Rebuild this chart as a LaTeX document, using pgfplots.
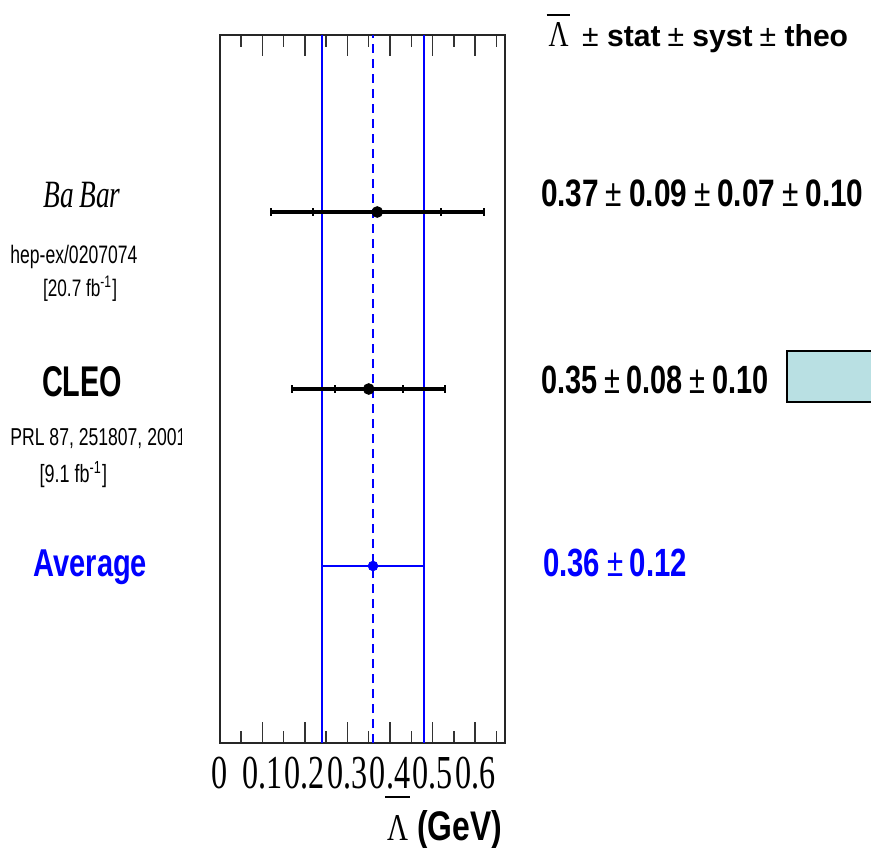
\documentclass[border=0pt]{standalone}
\usepackage{pgfplots}
\pgfplotsset{compat=1.18}
\usepackage{fontspec}
\setmainfont{Liberation Sans}
\newfontfamily\sn[FakeStretch=0.72]{Liberation Sans}
\newfontfamily\sr[FakeStretch=0.8]{Liberation Serif}
\newfontfamily\tk[FakeStretch=0.68]{Liberation Serif}
\definecolor{boxcyan}{RGB}{185,224,227}
\newlength\px \setlength\px{0.5pt}
\newcommand\fit[3]{\resizebox{#1\px}{#2\px}{#3}}
\newcommand\fitw[2]{\resizebox{#1\px}{!}{#2}}
\newcommand\PM{{\mdseries\char"00B1}}
\begin{document}
\begin{tikzpicture}
\useasboundingbox (0,0) rectangle (435.5pt,423.5pt);
\begin{axis}[
  at={(109.85pt,52pt)}, anchor=south west,
  scale only axis, width=142.65pt, height=354pt,
  xmin=0, xmax=0.67, ymin=0, ymax=4,
  axis line style={line width=1pt, black!85},
  xtick={0,0.1,0.2,0.3,0.4,0.5,0.6},
  xticklabels={0,0.1,0.2,0.3,0.4,0.5,0.6},
  minor xtick={0.05,0.15,0.25,0.35,0.45,0.55,0.65},
  ytick=\empty,
  tick align=inside,
  major tick length=10.5pt, minor tick length=6pt,
  every tick/.style={line width=0.75pt, black!80},
  xticklabel style={font=\tk\fontsize{23.65}{24}\selectfont, inner sep=0pt, yshift=-6.85pt},
  clip=false,
]
% average band lines
\addplot[blue, line width=1.1pt] coordinates {(0.24,0) (0.24,4)};
\addplot[blue, line width=1.1pt] coordinates {(0.48,0) (0.48,4)};
\addplot[blue, line width=1.1pt, dash pattern=on 4.5pt off 3pt] coordinates {(0.36,0) (0.36,4)};
% outer error bars (stat+syst+theo)
\addplot[only marks, mark=none, black,
  error bars/.cd, x dir=both, x explicit,
  error bar style={line width=1.6pt, black},
  error mark=|, error mark options={line width=1.1pt, mark size=1.9pt, black}]
  coordinates {(0.37,3) +- (0.25,0) (0.35,2) +- (0.18,0)};
% inner error bars (stat+syst)
\addplot[only marks, mark=*, mark size=2.7pt, black,
  error bars/.cd, x dir=both, x explicit,
  error bar style={line width=1.6pt, black},
  error mark=|, error mark options={line width=1.1pt, mark size=1.9pt, black}]
  coordinates {(0.37,3) +- (0.15,0) (0.35,2) +- (0.08,0)};
% average
\addplot[only marks, mark=*, mark size=2.4pt, blue,
  error bars/.cd, x dir=both, x explicit,
  error bar style={line width=1.1pt, blue},
  error mark=none]
  coordinates {(0.36,1) +- (0.12,0)};
\end{axis}
\begin{scope}[x=0.5pt,y=-0.5pt,shift={(0,423.5pt)}]
% header
\draw[line width=1pt] (546.7,15) -- (570,15);
\node[anchor=base west, inner sep=0pt] at (548.3,46.7) {\fit{20}{24}{\sr Λ}};
\node[anchor=base west, inner sep=0pt] at (581.7,46.7) {\fit{266}{22}{\sn\bfseries\PM{} stat\,\PM{} syst\,\PM{} theo}};
% results
\node[anchor=base west, inner sep=0pt] at (540.7,206.7) {\fit{322.3}{26.7}{\sn\bfseries 0.37\,\PM\,0.09\,\PM\,0.07\,\PM\,0.10}};
\node[anchor=base west, inner sep=0pt] at (540.7,393) {\fit{227.3}{27.5}{\sn\bfseries 0.35\,\PM\,0.08\,\PM\,0.10}};
\node[anchor=base west, inner sep=0pt, text=blue] at (542.7,576.7) {\fit{144}{27.5}{\sn\bfseries 0.36\,\PM\,0.12}};
\filldraw[fill=boxcyan, draw=black, line width=1pt] (786.7,351) rectangle (880,402.3);
% left labels
\node[anchor=base west, inner sep=0pt] at (43,208) {\fit{77}{25.3}{\sr\itshape Ba\,Bar}};
\node[anchor=base west, inner sep=0pt] at (10,263.3) {\fit{127}{18.3}{\sn hep-ex/0207074}};
\node[anchor=base west, inner sep=0pt] at (42.7,296) {\fitw{74}{\sn [20.7 fb\textsuperscript{-1}]}};
\node[anchor=base west, inner sep=0pt] at (41.7,396.7) {\fit{80}{30}{\sn\bfseries CLEO}};
\begin{scope}
\clip (0,400) rectangle (181,460);
\node[anchor=base west, inner sep=0pt] at (10,445) {\fitw{176}{\sn PRL 87, 251807, 2001}};
\end{scope}
\node[anchor=base west, inner sep=0pt] at (39.3,482.7) {\fitw{67.4}{\sn [9.1 fb\textsuperscript{-1}]}};
\node[anchor=base west, inner sep=0pt, text=blue] at (33.3,576.7) {\fit{113.4}{26.7}{\sn\bfseries Average}};
% x axis label
\draw[line width=1pt] (385,796.7) -- (410,796.7);
\node[anchor=base west, inner sep=0pt] at (386.7,840) {\fit{21}{25}{\sr Λ}};
\node[anchor=base west, inner sep=0pt] at (416.7,840) {\fit{85}{30}{\sn\bfseries (GeV)}};
\end{scope}
\end{tikzpicture}
\end{document}
